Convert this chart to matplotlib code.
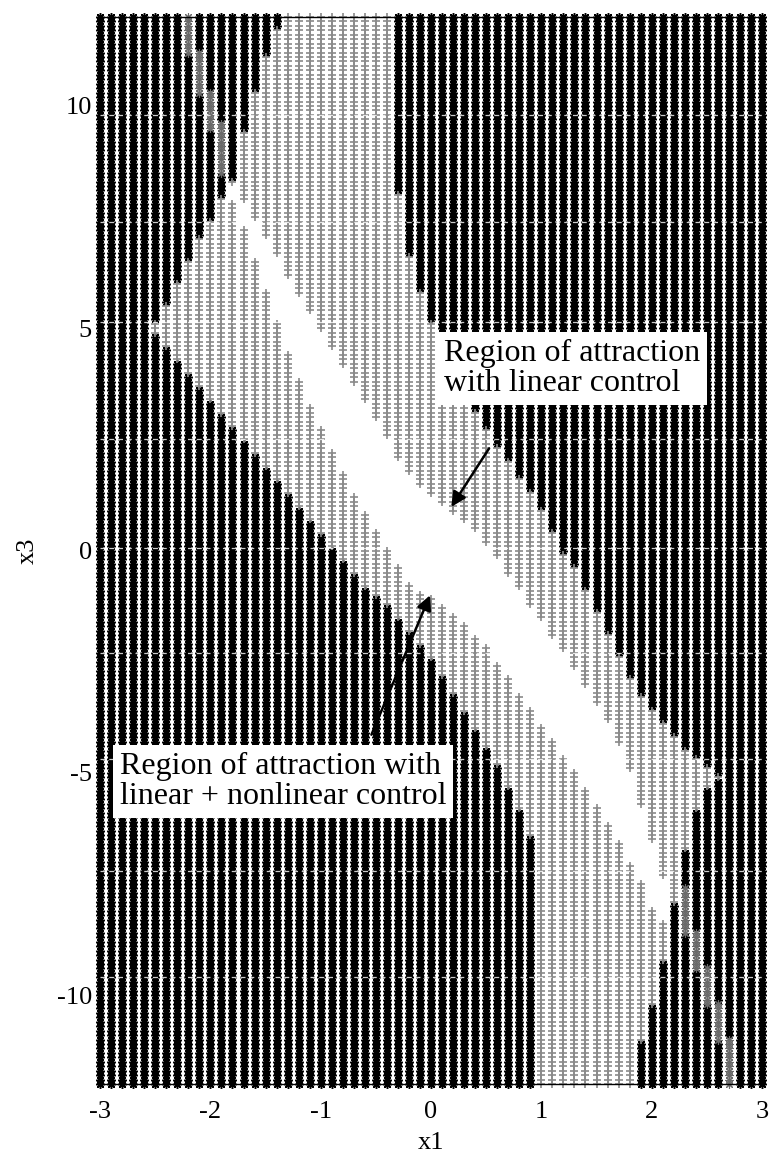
import matplotlib
matplotlib.use("Agg")
import matplotlib.pyplot as plt
import numpy as np

# grid of initial conditions (x1 columns, x3 rows)
x1_cols = np.round(np.linspace(-3.0, 3.0, 61), 2)
x3_rows = np.round(np.linspace(-12.0, 12.0, 241), 2)

nan = np.nan
# per column: lower / upper limit of the region of attraction (linear + nonlinear control)
roa_lo = [nan, nan, nan, nan, nan, 4.9, 4.6, 4.3, 4.0, 3.7,
          3.4, 3.1, 2.8, 2.5, 2.2, 1.9, 1.6, 1.3, 1.0, 0.7,
          0.4, 0.1, -0.2, -0.5, -0.8, -1.05, -1.25, -1.5, -1.8, -2.1,
          -2.4, -2.8, -3.2, -3.6, -4.0, -4.4, -4.8, -5.3, -5.8, -6.4,
          -12, -12, -12, -12, -12, -12, -12, -12, -12, -11.0,
          -10.2, -9.2, -7.9, -6.7, -5.8, -5.3, -5.1, nan, nan, nan, nan]
roa_hi = [nan, nan, nan, nan, nan, 5.1, 5.5, 6.0, 6.5, 7.0,
          7.4, 7.9, 8.3, 9.4, 10.3, 11.1, 11.7, 12, 12, 12,
          12, 12, 12, 12, 12, 12, 12, 8.0, 6.6, 5.8,
          5.1, 4.5, 4.0, 3.5, 3.1, 2.7, 2.35, 2.0, 1.65, 1.3,
          0.9, 0.45, -0.05, -0.4, -0.9, -1.4, -1.9, -2.4, -2.9, -3.3,
          -3.6, -3.9, -4.2, -4.45, -4.65, -4.85, -5.05, nan, nan, nan, nan]
# per column: band reached with linear control only
lin_hi = [nan, nan, nan, nan, nan, nan, nan, nan, nan, nan,
          nan, nan, 8.2, 7.8, 7.4, 7.0, 6.6, 6.1, 5.7, 5.3,
          4.9, 4.5, 4.1, 3.7, 3.3, 2.9, 2.5, 2.05, 1.7, 1.45,
          1.25, 1.05, 0.85, 0.65, 0.4, 0.15, -0.2, -0.55, -0.9, -1.25,
          -1.6, -1.95, -2.3, -2.7, -3.1, -3.5, -3.9, -4.4, -5.0, -5.8,
          -6.6, -7.4, -8.0, nan, nan, nan, nan, nan, nan, nan, nan]
lin_lo = [nan, nan, nan, nan, nan, nan, nan, nan, nan, nan,
          nan, nan, 7.9, 7.3, 6.6, 5.9, 5.2, 4.5, 3.9, 3.3,
          2.8, 2.3, 1.8, 1.3, 0.9, 0.5, 0.1, -0.35, -0.7, -0.9,
          -1.05, -1.25, -1.45, -1.65, -1.9, -2.15, -2.5, -2.85, -3.2, -3.55,
          -3.9, -4.25, -4.6, -4.95, -5.3, -5.7, -6.1, -6.5, -7.0, -7.4,
          -8.0, -8.3, -8.4, nan, nan, nan, nan, nan, nan, nan, nan]
# speckled asterisk streaks inside the unstable region
streak_lo = [nan] * 8 + [11.2, 10.3, 9.5, 8.5] + [nan] * 41 + [-8.6, -9.4, -10.2, -11.0, -12, nan, nan, nan]
streak_hi = [nan] * 8 + [12, 11.2, 10.3, 9.6] + [nan] * 41 + [-7.6, -8.6, -9.4, -10.2, -11.0, nan, nan, nan]
# light horizontal banding visible across the grid
band_rows = [9.8, 7.4, 5.15, 2.5, 0.05, -2.3, -4.7, -7.2, -9.6]


def in_band(lo, hi):
    lo = np.array(lo, dtype=float)[:, None]
    hi = np.array(hi, dtype=float)[:, None]
    y = x3_rows[None, :]
    return (y >= lo - 1e-6) & (y <= hi + 1e-6)


X, Y = np.meshgrid(x1_cols, x3_rows, indexing="ij")
roa = in_band(roa_lo, roa_hi)
lin = in_band(lin_lo, lin_hi) & roa
streak = in_band(streak_lo, streak_hi) & ~roa
gray = roa & ~lin
dark = ~roa & ~streak

serif = ["Liberation Serif", "DejaVu Serif"]
fig = plt.figure(figsize=(7.7, 11.59), dpi=100)
ax = fig.add_axes([0.13, 0.0647, 0.8596, 0.9206])

ax.plot(X[dark], Y[dark], linestyle="none", marker=(8, 2, 0), ms=6.2, mew=1.1,
        color="black", clip_on=False)
ax.plot(X[streak], Y[streak], linestyle="none", marker=(8, 2, 0), ms=6.2, mew=0.8,
        color="#6a6a6a", clip_on=False)
ax.plot(X[gray], Y[gray], linestyle="none", marker="+", ms=6.2, mew=1.2,
        color="#8a8a8a", clip_on=False)
for yb in band_rows:
    ax.axhline(yb, color="white", lw=0.9, alpha=0.8, linestyle=(0, (4, 3)), zorder=3)

ax.set_xlim(-3, 3)
ax.set_ylim(-12, 12)
ax.set_xticks([-3, -2, -1, 0, 1, 2, 3])
ax.set_yticks([-10, -5, 0, 5, 10])
ax.set_xticklabels(["-3", "-2", "-1", "0", "1", "2", "3"])
ax.set_yticklabels(["-10", "-5", "0", "5", "10"])
ax.tick_params(length=0, labelsize=19)
ax.tick_params(axis="x", pad=12)
ax.tick_params(axis="y", pad=6)
for lab in ax.get_xticklabels() + ax.get_yticklabels():
    lab.set_family(serif)
for s in ax.spines.values():
    s.set_linewidth(1.0)
ax.set_xlabel("x1", fontsize=19, family=serif, labelpad=7)
ax.set_ylabel("x3", fontsize=19, family=serif, labelpad=13)

box = dict(facecolor="white", edgecolor="none", pad=5)
ax.text(0.12, 4.1, "Region of attraction\nwith linear control", fontsize=23,
        family=serif, ha="left", va="center", linespacing=1.05, bbox=box, zorder=5)
ax.text(-2.82, -5.2, "Region of attraction with\nlinear + nonlinear control", fontsize=23,
        family=serif, ha="left", va="center", linespacing=1.05, bbox=box, zorder=5)

arrow = dict(arrowstyle="-|>", color="black", lw=1.8, mutation_scale=22)
ax.annotate("", xy=(0.17, 0.93), xytext=(0.54, 2.35), arrowprops=arrow, zorder=6)
ax.annotate("", xy=(0.0, -0.95), xytext=(-0.55, -4.2), arrowprops=arrow, zorder=6)

fig.savefig("out.png", dpi=100)
